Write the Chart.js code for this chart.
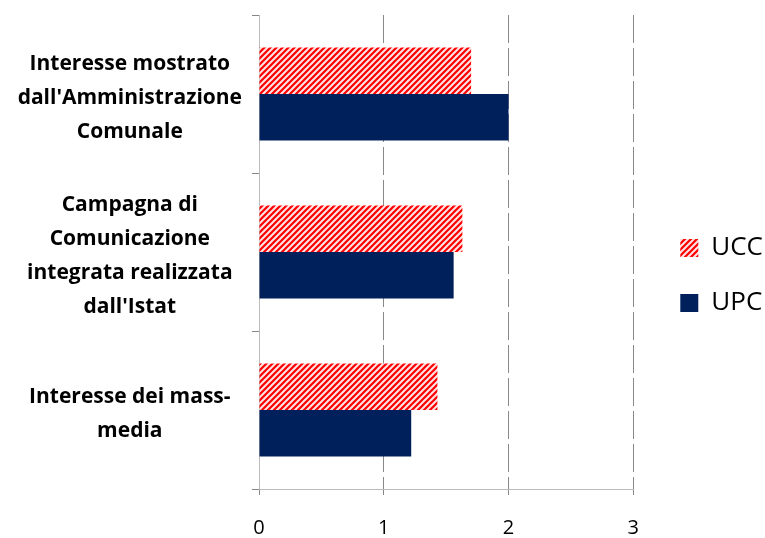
<!DOCTYPE html>
<html>
<head>
<meta charset="utf-8">
<script src="https://cdn.jsdelivr.net/npm/chart.js@4.4.0/dist/chart.umd.min.js"></script>
<style>
  html, body { margin: 0; padding: 0; background: #fff; }
</style>
</head>
<body>
<canvas id="chart" width="765" height="538"></canvas>
<script>
// categories (multi-line labels) and values
const categories = [
  ["Interesse mostrato", "dall'Amministrazione", "Comunale"],
  ["Campagna di", "Comunicazione", "integrata realizzata", "dall'Istat"],
  ["Interesse dei mass-", "media"]
];
const uccValues = [1.70, 1.63, 1.43];
const upcValues = [2.00, 1.56, 1.22];
const seriesNames = ["UCC", "UPC"];
const xMin = 0;
const xMax = 3;

// red diagonal hatch used for UCC
function makeHatch() {
  const size = 6;
  const c = document.createElement('canvas');
  c.width = size;
  c.height = size;
  const g = c.getContext('2d');
  g.fillStyle = '#ffe4e4';
  g.fillRect(0, 0, size, size);
  g.strokeStyle = '#ff0000';
  g.lineWidth = 2.2;
  g.beginPath();
  g.moveTo(-1, 1); g.lineTo(1, -1);
  g.moveTo(0, size); g.lineTo(size, 0);
  g.moveTo(size - 1, size + 1); g.lineTo(size + 1, size - 1);
  g.stroke();
  return g.createPattern(c, 'repeat');
}

const FONT = "'Open Sans', sans-serif";
const PAD_LEFT = 12;

// push the legend a bit away from the plot, like the original
const legendShift = {
  id: 'legendShift',
  afterLayout(chart) {
    const lg = chart.legend;
    if (!lg) return;
    lg.left += 18;
    lg.right += 18;
    lg.top -= 1;
    lg.bottom -= 1;
  }
};

const ctx = document.getElementById('chart').getContext('2d');
new Chart(ctx, {
  type: 'bar',
  data: {
    labels: categories,
    datasets: [
      {
        label: seriesNames[0],
        data: uccValues,
        backgroundColor: makeHatch(),
        borderWidth: 0
      },
      {
        label: seriesNames[1],
        data: upcValues,
        backgroundColor: '#00205c',
        borderWidth: 0
      }
    ]
  },
  plugins: [legendShift],
  options: {
    indexAxis: 'y',
    responsive: false,
    animation: false,
    categoryPercentage: 0.59,
    barPercentage: 1.0,
    layout: {
      padding: { left: PAD_LEFT, top: 15, right: 10, bottom: 0 }
    },
    plugins: {
      tooltip: { enabled: false },
      legend: {
        position: 'right',
        labels: {
          boxWidth: 18,
          boxHeight: 18,
          padding: 29,
          color: '#000',
          font: { family: FONT, size: 26 }
        }
      }
    },
    scales: {
      x: {
        min: xMin,
        max: xMax,
        afterFit: (scale) => {
          scale.height = 49;
          scale.paddingLeft = 0;
          scale.paddingRight = 0;
        },
        ticks: {
          stepSize: 1,
          color: '#000',
          padding: 21,
          font: { family: FONT, size: 20 }
        },
        grid: {
          color: '#888',
          tickColor: '#888',
          tickLength: 6,
          tickBorderDash: []
        },
        border: { color: '#bbb', dash: [28, 5] }
      },
      y: {
        afterFit: (scale) => {
          scale.width = 259 - PAD_LEFT;
          scale.paddingTop = 0;
          scale.paddingBottom = 0;
        },
        ticks: {
          crossAlign: 'center',
          color: '#000',
          padding: 10,
          labelOffset: 4,
          font: { family: FONT, size: 21, weight: 'bold', lineHeight: 1.62 }
        },
        grid: {
          offset: true,
          drawOnChartArea: false,
          color: '#888',
          tickLength: 7
        },
        border: { color: '#bbb' }
      }
    }
  }
});
</script>
</body>
</html>
